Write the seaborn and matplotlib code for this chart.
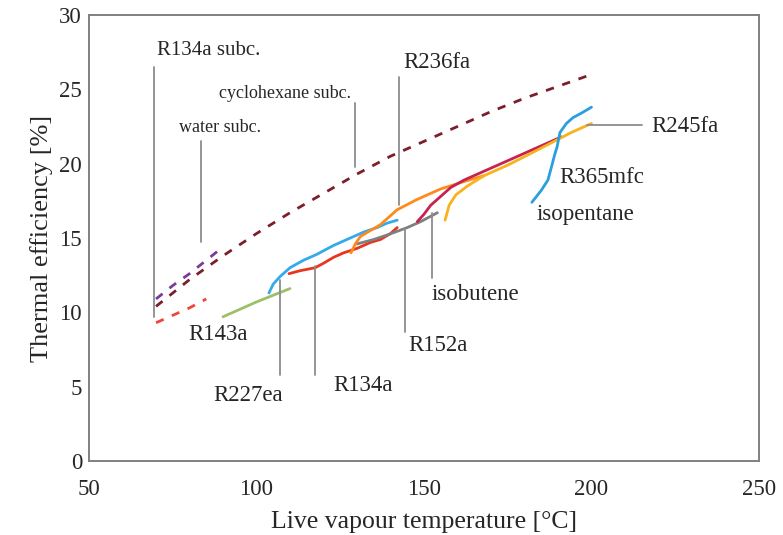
import matplotlib
matplotlib.use("Agg")
import matplotlib.pyplot as plt
import seaborn as sns
import pandas as pd

sns.set_theme(style="white")
plt.rcParams["font.family"] = ["Liberation Serif", "DejaVu Serif"]

# ---- subcritical cycles (dashed) ----
cyclo_t = [70, 80, 90, 100, 110, 120, 130, 140, 150, 160, 170, 180, 190, 200]
cyclo_eff = [10.4, 12.2, 13.8, 15.3, 16.7, 18.0, 19.3, 20.5, 21.5, 22.5, 23.5, 24.4, 25.2, 26.0]
water_t = [70, 75, 80, 85, 90]
water_eff = [10.9, 11.8, 12.6, 13.5, 14.4]
r134a_sub_t = [70, 75, 80, 85]
r134a_sub_eff = [9.3, 9.8, 10.3, 10.9]

# ---- supercritical cycles (solid) ----
r143a_t = [90, 100, 110]
r143a_eff = [9.7, 10.7, 11.6]
r227ea_t = [103.7, 105, 107, 110, 114, 118, 123, 128, 132, 136, 139, 142]
r227ea_eff = [11.3, 11.9, 12.4, 13.0, 13.5, 13.9, 14.5, 15.0, 15.4, 15.7, 16.0, 16.2]
r134a_t = [109.7, 113, 117.5, 120, 123, 126, 130, 134, 137, 140, 142]
r134a_eff = [12.6, 12.8, 13.0, 13.3, 13.7, 14.0, 14.3, 14.7, 14.9, 15.3, 15.7]
r236fa_t = [128.2, 129.5, 131, 134, 137, 142, 148, 155, 162, 168]
r236fa_eff = [14.0, 14.6, 15.1, 15.5, 15.9, 16.9, 17.6, 18.3, 18.8, 19.2]
isobutene_t = [130, 135, 139, 145, 149, 154]
isobutene_eff = [14.6, 14.9, 15.2, 15.7, 16.1, 16.7]
r365mfc_t = [148, 150, 152, 155, 158, 162, 168, 175, 182, 188, 191]
r365mfc_eff = [16.1, 16.6, 17.2, 17.8, 18.4, 18.9, 19.5, 20.2, 20.9, 21.5, 21.8]
r245fa_t = [156.3, 157.5, 159.5, 163, 168, 175, 182, 188, 194, 200]
r245fa_eff = [16.2, 17.2, 17.9, 18.5, 19.2, 19.9, 20.7, 21.4, 22.1, 22.7]
isopentane_t = [182.2, 185, 187, 188.2, 189, 189.7, 190.6, 192.5, 194.5, 197, 200]
isopentane_eff = [17.4, 18.2, 18.9, 19.9, 20.6, 21.1, 22.1, 22.7, 23.1, 23.4, 23.8]

curves = [
    ("cyclohexane subc.", cyclo_t, cyclo_eff, "#7a1f2b", True),
    ("water subc.", water_t, water_eff, "#7a3a9a", True),
    ("R134a subc.", r134a_sub_t, r134a_sub_eff, "#f0463a", True),
    ("R143a", r143a_t, r143a_eff, "#9cc068", False),
    ("R227ea", r227ea_t, r227ea_eff, "#33aaee", False),
    ("R134a", r134a_t, r134a_eff, "#e8361e", False),
    ("isobutene", isobutene_t, isobutene_eff, "#7f7f7f", False),
    ("R236fa", r236fa_t, r236fa_eff, "#ff8a1c", False),
    ("R365mfc", r365mfc_t, r365mfc_eff, "#c8234e", False),
    ("R245fa", r245fa_t, r245fa_eff, "#f7b21c", False),
    ("isopentane", isopentane_t, isopentane_eff, "#2a9fe0", False),
]

fig = plt.figure(figsize=(7.83, 5.35), dpi=100)
ax = fig.add_axes([0.1137, 0.1383, 0.8556, 0.8337])

for name, t, eff, color, dashed in curves:
    df = pd.DataFrame({"t": t, "eff": eff})
    sns.lineplot(data=df, x="t", y="eff", color=color, ax=ax, sort=False,
                 linewidth=2.0, estimator=None)
    if dashed:
        ax.lines[-1].set_dashes((3.0, 3.2))

# leader lines and curve labels
lead = dict(color="#8c8c8c", linewidth=1.3)
ax.plot([69.5, 69.5], [9.7, 26.5], **lead)
ax.plot([83.4, 83.4], [14.7, 21.5], **lead)
ax.plot([129.4, 129.4], [19.8, 24.1], **lead)
ax.plot([142.5, 142.5], [17.2, 25.8], **lead)
ax.plot([198.7, 215], [22.6, 22.6], **lead)
ax.plot([152.4, 152.4], [12.3, 16.7], **lead)
ax.plot([144.3, 144.3], [8.7, 15.7], **lead)
ax.plot([117.5, 117.5], [5.8, 13.1], **lead)
ax.plot([107.0, 107.0], [5.8, 12.2], **lead)

big = 16.5
small = 13
ax.text(70.3, 27.6, "R134a subc.", fontsize=15, ha="left", va="center")
ax.text(89.1, 22.4, "water subc.", fontsize=small, ha="center", va="center")
ax.text(108.5, 24.7, "cyclohexane subc.", fontsize=small, ha="center", va="center")
ax.text(143.7, 26.8, "R236fa", fontsize=big, ha="left", va="center")
ax.text(218, 22.5, "R245fa", fontsize=big, ha="left", va="center")
ax.text(190.3, 19.1, "R365mfc", fontsize=big, ha="left", va="center")
ax.text(183.5, 16.6, "isopentane", fontsize=big, ha="left", va="center")
ax.text(152.4, 11.2, "isobutene", fontsize=big, ha="left", va="center")
ax.text(145.2, 7.8, "R152a", fontsize=big, ha="left", va="center")
ax.text(122.8, 5.1, "R134a", fontsize=big, ha="left", va="center")
ax.text(97.5, 4.4, "R227ea", fontsize=big, ha="center", va="center")
ax.text(88.5, 8.5, "R143a", fontsize=big, ha="center", va="center")

ax.set_xlim(50, 250)
ax.set_ylim(0, 30)
ax.set_xticks([50, 100, 150, 200, 250])
ax.set_yticks([0, 5, 10, 15, 20, 25, 30])
ax.set_xlabel("Live vapour temperature [°C]", fontsize=18.5, labelpad=8)
ax.set_ylabel("Thermal efficiency [%]", fontsize=19, labelpad=4.5)
ax.tick_params(axis="both", direction="in", length=5, width=1.2, color="#808080",
               labelsize=16.5, pad=5)
ax.tick_params(axis="x", pad=13)
for s in ax.spines.values():
    s.set_color("#808080")
    s.set_linewidth(1.4)
    s.set_visible(True)

fig.savefig("out.png", dpi=100)
